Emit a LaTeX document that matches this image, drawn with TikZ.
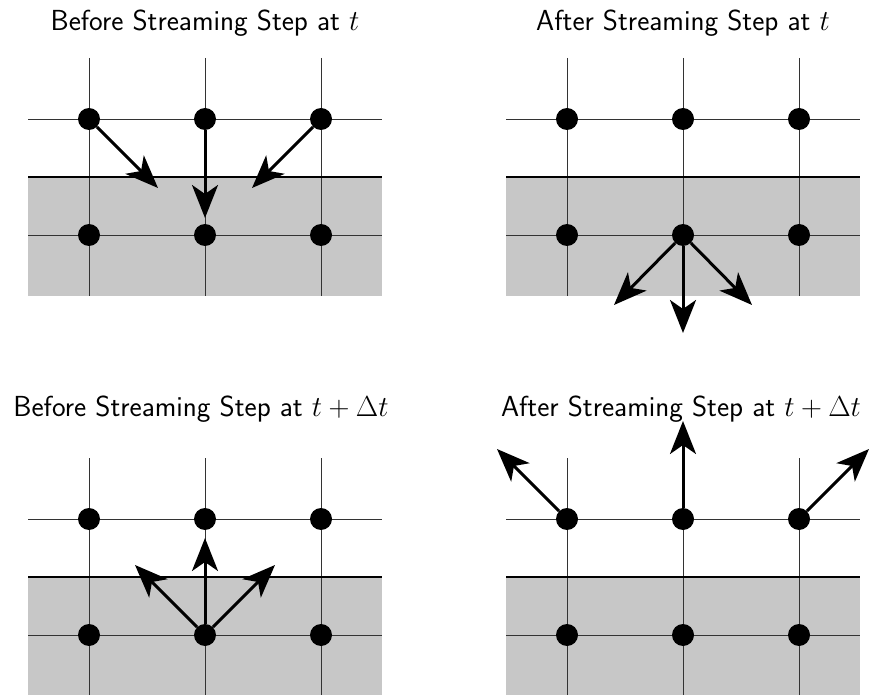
\RequirePackage{fix-cm}
\documentclass[tikz,border=0pt]{standalone}
\usetikzlibrary{arrows.meta}

\tikzset{
  gridline/.style={draw=black!80, line width=0.9pt},
  wall/.style={fill=black!22},
  walledge/.style={draw=black, line width=1.1pt},
  dot/.style={circle, fill=black, inner sep=0pt, minimum size=22pt},
  velo/.style={line width=3pt, -{Stealth[length=33pt, width=26pt, inset=9pt]}},
  paneltitle/.style={anchor=base, font=\sffamily\fontsize{29}{34}\selectfont, inner sep=0pt},
}

% One lattice panel: wall region, grid lines and six nodes named #1-<row><col>
\newcommand\latticepanel[3]{%
  \begin{scope}[shift={(#2,#3)}]
    \fill[wall] (28,177) rectangle (382,296);
    \foreach \xx in {89,205,321} \draw[gridline] (\xx,58) -- (\xx,296);
    \foreach \yy in {119,235} \draw[gridline] (28,\yy) -- (382,\yy);
    \draw[walledge] (28,177) -- (382,177);
    \foreach \xx/\cc in {89/1,205/2,321/3} {
      \node[dot] (#1-1\cc) at (\xx,119) {};
      \node[dot] (#1-2\cc) at (\xx,235) {};
    }
  \end{scope}%
}

\begin{document}
\begin{tikzpicture}[x=1pt, y=-1pt]
  \useasboundingbox (0,0) rectangle (871,695);

  % lattices
  \latticepanel{A}{0}{0}
  \latticepanel{B}{478}{0}
  \latticepanel{C}{0}{400}
  \latticepanel{D}{478}{400}

  % titles
  \node[paneltitle] (tA) at (205,31) {Before Streaming Step at $t$};
  \node[paneltitle] (tB) at (683,31) {After Streaming Step at $t$};
  \node[paneltitle] (tC) at (201,416) {Before Streaming Step at $t+\Delta t$};
  \node[paneltitle] (tD) at (681,416) {After Streaming Step at $t+\Delta t$};

  % arrow end points
  \coordinate (A-e1) at (158,188);
  \coordinate (A-e2) at (205,218);
  \coordinate (A-e3) at (252,188);
  \coordinate (B-e1) at (614,305);
  \coordinate (B-e2) at (683,333);
  \coordinate (B-e3) at (752,305);
  \coordinate (C-e1) at (135,565);
  \coordinate (C-e2) at (205,538);
  \coordinate (C-e3) at (275,565);
  \coordinate (D-e1) at (497,449);
  \coordinate (D-e2) at (683,421);
  \coordinate (D-e3) at (869,449);

  % populations
  \draw[velo] (A-11) -- (A-e1);
  \draw[velo] (A-12) -- (A-e2);
  \draw[velo] (A-13) -- (A-e3);

  \draw[velo] (B-22) -- (B-e1);
  \draw[velo] (B-22) -- (B-e2);
  \draw[velo] (B-22) -- (B-e3);

  \draw[velo] (C-22) -- (C-e1);
  \draw[velo] (C-22) -- (C-e2);
  \draw[velo] (C-22) -- (C-e3);

  \draw[velo] (D-11) -- (D-e1);
  \draw[velo] (D-12) -- (D-e2);
  \draw[velo] (D-13) -- (D-e3);
\end{tikzpicture}
\end{document}
